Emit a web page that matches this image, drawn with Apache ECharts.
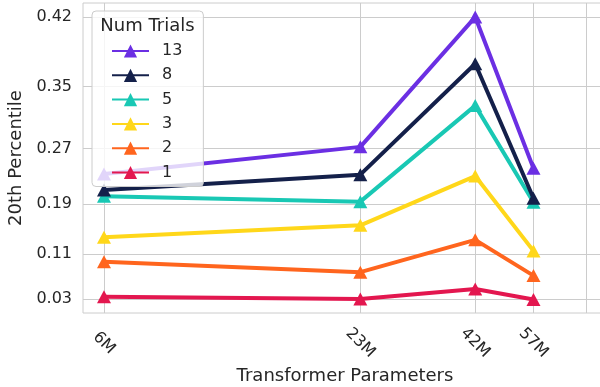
<!DOCTYPE html>
<html>
<head>
<meta charset="utf-8">
<script src="https://cdn.jsdelivr.net/npm/echarts@6/dist/echarts.min.js"></script>
<style>
html,body{margin:0;padding:0;background:#fff;}
#chart{width:600px;height:387px;}
</style>
</head>
<body>
<div id="chart"></div>
<script>
// ---- data ----
const xValues = [6, 23, 42, 57];               // transformer parameters, millions
const xTickValues = [6, 23, 42, 57, 75];
const xTickLabels = ['6M', '23M', '42M', '57M', ''];
const yTickValues = [0.031, 0.1096, 0.1882, 0.2668, 0.3454, 0.424];
const yTickLabels = ['0.03', '0.11', '0.19', '0.27', '0.35', '0.42'];
const trialNames = ['13', '8', '5', '3', '2', '1'];
const trials13 = [0.232, 0.269, 0.424, 0.240];
const trials8  = [0.209, 0.231, 0.372, 0.197];
const trials5  = [0.200, 0.192, 0.322, 0.191];
const trials3  = [0.137, 0.156, 0.229, 0.115];
const trials2  = [0.097, 0.079, 0.133, 0.073];
const trials1  = [0.035, 0.031, 0.049, 0.030];
const colors = {
  '13': '#6b2fe3', '8': '#14204a', '5': '#19c8b4',
  '3': '#ffd71a', '2': '#ff651e', '1': '#e3174f'
};

// ---- y scale of the reference: exponential (convex) scale ----
const K = 1.39;
const T = v => Math.exp(K * v);
const Tinv = t => Math.log(t) / K;
const tLo = T(yTickValues[0]), tHi = T(yTickValues[yTickValues.length - 1]);
const pad = (tHi - tLo) * 0.05;

function nearestLabel(v, vals, labels) {
  let bi = 0, bd = Infinity;
  vals.forEach((x, i) => { const d = Math.abs(x - v); if (d < bd) { bd = d; bi = i; } });
  return labels[bi];
}

const seriesData = { '13': trials13, '8': trials8, '5': trials5, '3': trials3, '2': trials2, '1': trials1 };
const drawOrder = ['1', '2', '3', '5', '8', '13'];
const FONT = 'DejaVu Sans';
const TXT = '#262626';

const series = drawOrder.map(name => ({
  name: name,
  type: 'line',
  data: xValues.map((x, i) => [x, T(seriesData[name][i])]),
  symbol: 'triangle',
  symbolSize: [14, 13],
  lineStyle: { width: 4, color: colors[name] },
  itemStyle: { color: colors[name] },
  emphasis: { disabled: true },
  animation: false
}));

const chart = echarts.init(document.getElementById('chart'), null, { renderer: 'canvas' });
chart.setOption({
  animation: false,
  textStyle: { fontFamily: FONT },
  grid: {
    left: 83, top: 3, width: 524, bottom: 74,
    outerBoundsMode: 'none',
    containLabel: false,
    show: true, borderColor: '#cccccc', borderWidth: 1, backgroundColor: '#fff'
  },
  xAxis: {
    type: 'log',
    logBase: 10,
    min: 5.375,
    max: 83.8,
    name: 'Transformer Parameters',
    nameLocation: 'middle',
    nameGap: 53,
    nameTextStyle: { fontSize: 18, color: TXT, fontFamily: FONT },
    axisLine: { show: false },
    axisTick: { show: false, customValues: xTickValues },
    axisLabel: {
      customValues: xTickValues,
      rotate: -45,
      align: 'center',
      verticalAlign: 'middle',
      margin: 30,
      fontSize: 16,
      color: TXT,
      fontFamily: FONT,
      formatter: v => nearestLabel(v, xTickValues, xTickLabels)
    },
    splitLine: { show: true, lineStyle: { color: '#cccccc', width: 1 } },
    minorTick: { show: false },
    minorSplitLine: { show: false }
  },
  yAxis: {
    type: 'value',
    min: tLo - pad,
    max: tHi + pad,
    name: '20th Percentile',
    nameLocation: 'middle',
    nameGap: 54,
    nameTextStyle: { fontSize: 18, color: TXT, fontFamily: FONT },
    axisLine: { show: false },
    axisTick: { show: false, customValues: yTickValues.map(T) },
    axisLabel: {
      customValues: yTickValues.map(T),
      margin: 11,
      fontSize: 16,
      color: TXT,
      fontFamily: FONT,
      formatter: t => nearestLabel(Tinv(t), yTickValues, yTickLabels)
    },
    splitLine: { show: true, lineStyle: { color: '#cccccc', width: 1 } }
  },
  legend: {
    data: trialNames,
    orient: 'vertical',
    left: 92,
    top: 11,
    padding: [32, 21, 6, 19],
    itemWidth: 37,
    itemHeight: 16.5,
    itemGap: 8.3,
    backgroundColor: 'rgba(255,255,255,0.8)',
    borderColor: '#cccccc',
    borderWidth: 1,
    borderRadius: 4,
    selectedMode: false,
    textStyle: { fontSize: 16, color: TXT, fontFamily: FONT, padding: [0, 0, 0, 8] }
  },
  graphic: [{
    type: 'text',
    x: 147.5,
    y: 26,
    z: 100,
    style: {
      text: 'Num Trials',
      font: '18px "DejaVu Sans"',
      fill: TXT,
      align: 'center',
      verticalAlign: 'middle'
    }
  }],
  series: series
});
</script>
</body>
</html>
